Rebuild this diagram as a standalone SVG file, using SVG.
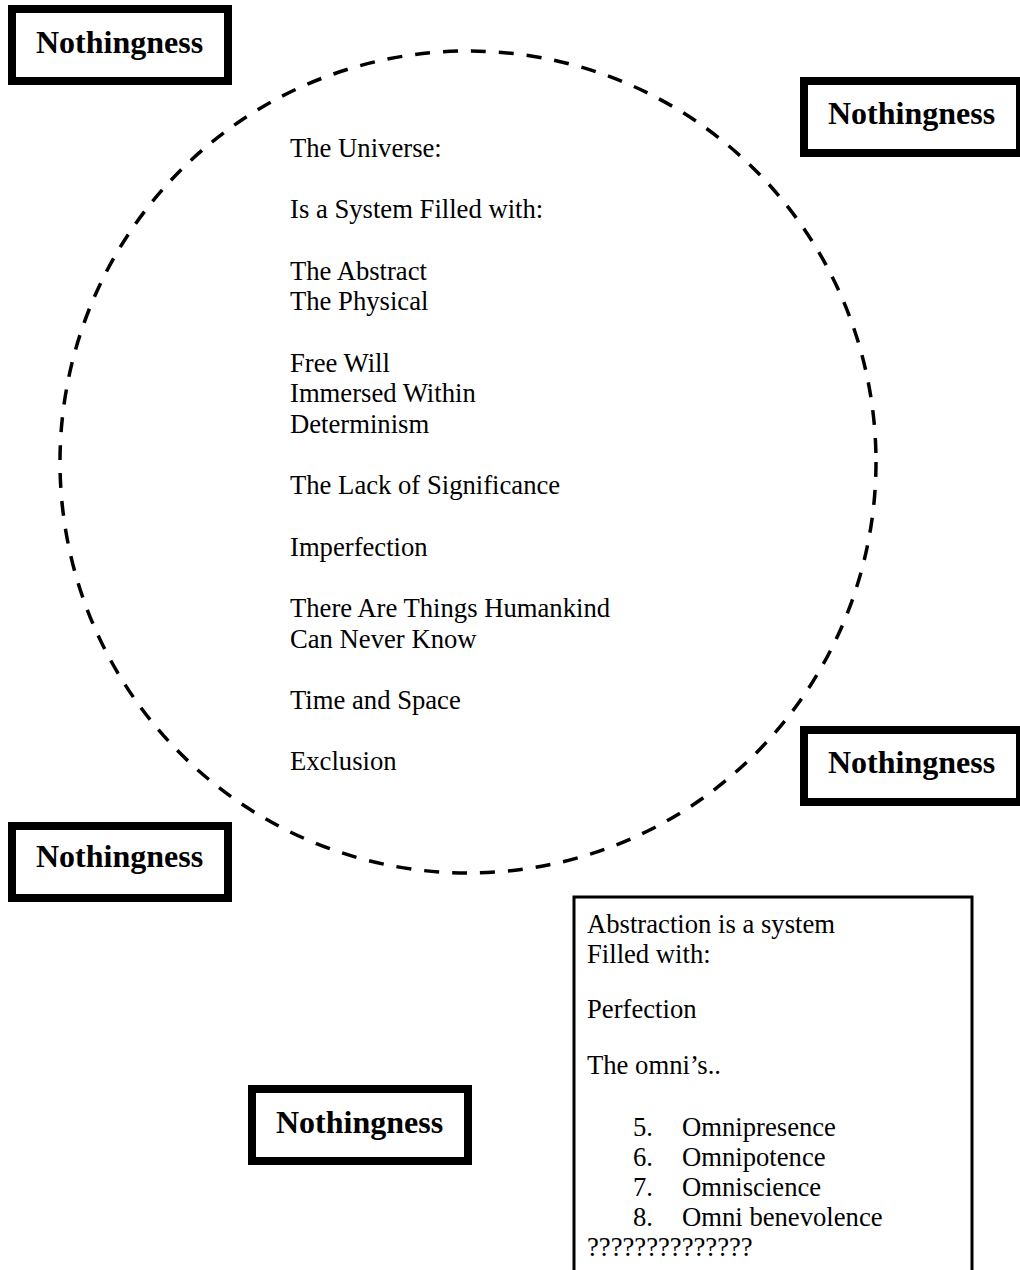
<svg xmlns="http://www.w3.org/2000/svg" width="1020" height="1270" viewBox="0 0 1020 1270">
  <style>
    .bg { fill: #ffffff; }
    .nbox { fill: #ffffff; stroke: #000000; stroke-width: 8; }
    .nlabel { font-family: "Liberation Serif", "Times New Roman", serif; font-weight: bold; font-size: 32px; fill: #000000; }
    .body { font-family: "Liberation Serif", "Times New Roman", serif; font-size: 26.67px; fill: #000000; }
    .universe { fill: none; stroke: #000000; stroke-width: 3.5; stroke-dasharray: 15 13; }
    .abox { fill: #ffffff; stroke: #000000; stroke-width: 3; }
  </style>
  <rect class="bg" x="0" y="0" width="1020" height="1270"/>

  <!-- dashed boundary of the universe -->
  <g id="connectors">
    <ellipse id="universe-boundary" class="universe" cx="468" cy="462" rx="408" ry="411"/>
  </g>

  <g id="universe-text">
    <text class="body" x="290" y="157">The Universe:</text>
    <text class="body" x="290" y="218">Is a System Filled with:</text>
    <text class="body" x="290" y="280">The Abstract</text>
    <text class="body" x="290" y="310">The Physical</text>
    <text class="body" x="290" y="372">Free Will</text>
    <text class="body" x="290" y="402">Immersed Within</text>
    <text class="body" x="290" y="433">Determinism</text>
    <text class="body" x="290" y="494">The Lack of Significance</text>
    <text class="body" x="290" y="556">Imperfection</text>
    <text class="body" x="290" y="617">There Are Things Humankind</text>
    <text class="body" x="290" y="648">Can Never Know</text>
    <text class="body" x="290" y="709">Time and Space</text>
    <text class="body" x="290" y="770">Exclusion</text>
  </g>

  <g id="nothingness-top-left">
    <rect class="nbox" x="12" y="9" width="216" height="72"/>
    <text class="nlabel" x="36" y="53">Nothingness</text>
  </g>
  <g id="nothingness-top-right">
    <rect class="nbox" x="804" y="81" width="216" height="72"/>
    <text class="nlabel" x="828" y="124">Nothingness</text>
  </g>
  <g id="nothingness-mid-right">
    <rect class="nbox" x="804" y="730" width="216" height="72"/>
    <text class="nlabel" x="828" y="773">Nothingness</text>
  </g>
  <g id="nothingness-bottom-left">
    <rect class="nbox" x="12" y="826" width="216" height="72"/>
    <text class="nlabel" x="36" y="867">Nothingness</text>
  </g>
  <g id="nothingness-bottom-center">
    <rect class="nbox" x="252" y="1089" width="216" height="72"/>
    <text class="nlabel" x="276" y="1133">Nothingness</text>
  </g>

  <g id="abstraction">
    <rect class="abox" x="574" y="897" width="398" height="400"/>
    <text class="body" x="587" y="933">Abstraction is a system</text>
    <text class="body" x="587" y="963">Filled with:</text>
    <text class="body" x="587" y="1018">Perfection</text>
    <text class="body" x="587" y="1074">The omni’s..</text>
    <text class="body" x="633" y="1136">5.</text>
    <text class="body" x="682" y="1136">Omnipresence</text>
    <text class="body" x="633" y="1166">6.</text>
    <text class="body" x="682" y="1166">Omnipotence</text>
    <text class="body" x="633" y="1196">7.</text>
    <text class="body" x="682" y="1196">Omniscience</text>
    <text class="body" x="633" y="1226">8.</text>
    <text class="body" x="682" y="1226">Omni benevolence</text>
    <text class="body" x="587" y="1256">??????????????</text>
  </g>
</svg>
